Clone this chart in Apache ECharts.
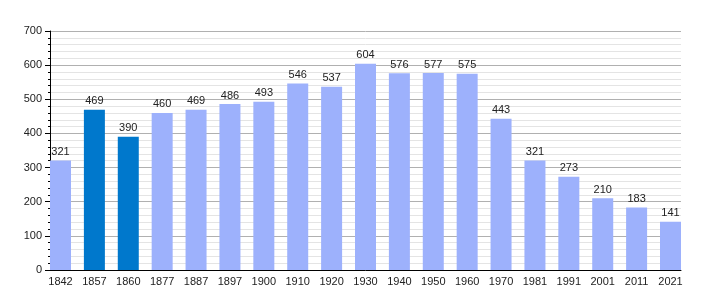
<!DOCTYPE html>
<html><head><meta charset="utf-8">
<script src="https://cdn.jsdelivr.net/npm/echarts@6/dist/echarts.min.js"></script>
<style>html,body{margin:0;padding:0;background:#fff}#c{width:710px;height:300px}</style>
</head><body><div id="c"></div>
<script>
const years = ['1842','1857','1860','1877','1887','1897','1900','1910','1920','1930','1940','1950','1960','1970','1981','1991','2001','2011','2021'];
const population = [321,469,390,460,469,486,493,546,537,604,576,577,575,443,321,273,210,183,141];
const highlighted = ['1857','1860'];
const yTicks = [0,100,200,300,400,500,600,700];

const light = '#9db1fc', dark = '#0078cc';
const font = 'Liberation Sans, Arial, sans-serif';
const band = 610/18, barW = 21;
const gl = 50 + barW/2 - band/2;

const chart = echarts.init(document.getElementById('c'), null, {renderer:'canvas'});
chart.setOption({
  animation:false,
  grid:[
    {left:50, top:31, width:631, height:239},
    {left:gl, top:31, width:band*19, height:239}
  ],
  xAxis:[
    {gridIndex:0, type:'value', min:0, max:1, axisLine:{show:true, lineStyle:{color:'#000', width:1}},
     axisTick:{show:false}, axisLabel:{show:false}, splitLine:{show:false}},
    {gridIndex:1, type:'category', data:years, axisLine:{show:false}, axisTick:{show:false},
     axisLabel:{color:'#222', fontFamily:font, fontSize:11, margin:6, interval:0}}
  ],
  yAxis:[
    {gridIndex:0, type:'value', min:yTicks[0], max:yTicks[yTicks.length-1], interval:100,
     axisLine:{show:true, lineStyle:{color:'#000', width:1}},
     axisTick:{show:true, length:5, lineStyle:{color:'#000'}},
     minorTick:{show:true, splitNumber:5, length:2, lineStyle:{color:'#000'}},
     axisLabel:{color:'#222', fontFamily:font, fontSize:11, margin:8},
     splitLine:{show:true, lineStyle:{color:'#b0b0b0', width:1}},
     minorSplitLine:{show:true, lineStyle:{color:'#e4e4e4', width:1}}},
    {gridIndex:1, type:'value', min:yTicks[0], max:yTicks[yTicks.length-1], show:false, splitLine:{show:false}}
  ],
  series:[{
    type:'bar', xAxisIndex:1, yAxisIndex:1, barWidth:barW,
    data: population.map((v,i)=>({value:v, itemStyle:{color: highlighted.includes(years[i]) ? dark : light}})),
    label:{show:true, position:'top', distance:3, color:'#222', fontFamily:font, fontSize:11}
  }]
});
</script></body></html>
